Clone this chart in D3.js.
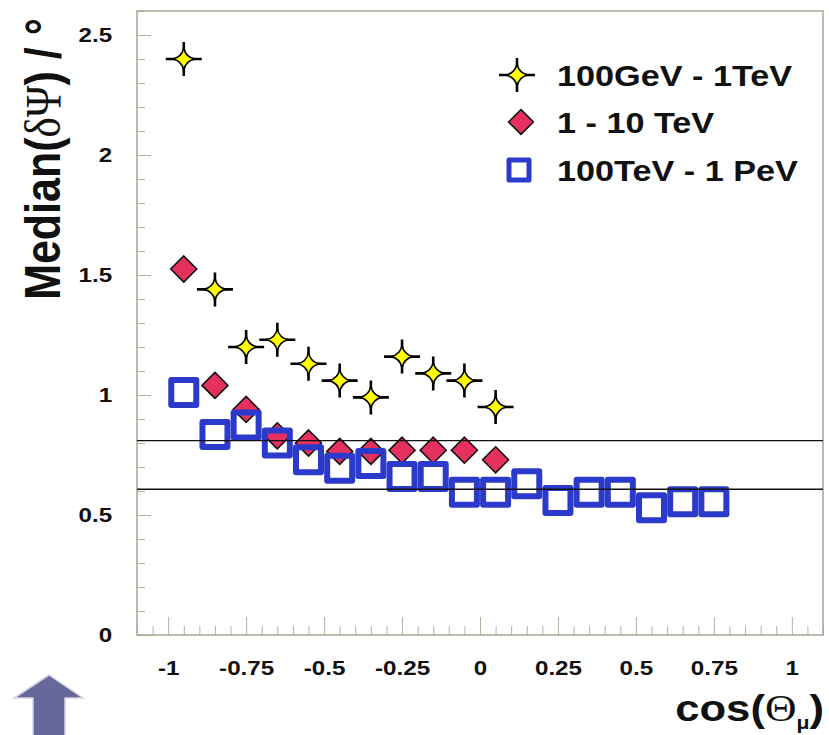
<!DOCTYPE html>
<html>
<head>
<meta charset="utf-8">
<script src="https://cdn.jsdelivr.net/npm/d3@7"></script>
<style>
  body { margin: 0; background: #fff; }
  svg { display: block; }
</style>
</head>
<body>
<svg id="chart" width="829" height="735"></svg>
<script>
// cos(theta_mu) bin centres
const binCentres = [-0.95, -0.85, -0.75, -0.65, -0.55, -0.45, -0.35, -0.25, -0.15,
                    -0.05, 0.05, 0.15, 0.25, 0.35, 0.45, 0.55, 0.65, 0.75];

// Median angular error (degrees) per energy band
const band100GeV = [2.40, 1.44, 1.20, 1.23, 1.13, 1.06, 0.99, 1.16, 1.09, 1.06, 0.95];
const band1TeV   = [1.525, 1.04, 0.94, 0.83, 0.80, 0.765, 0.765, 0.77, 0.77, 0.77, 0.73];
const band100TeV = [1.01, 0.835, 0.875, 0.80, 0.73, 0.695, 0.715, 0.66, 0.66, 0.595,
                    0.595, 0.63, 0.56, 0.595, 0.595, 0.53, 0.555, 0.555];

const seriesNames = ["100GeV - 1TeV", "1 - 10 TeV", "100TeV - 1 PeV"];

// horizontal reference levels
const refLevels = [0.81, 0.607];

// axis ticks
const xMajorTicks = [-1, -0.75, -0.5, -0.25, 0, 0.25, 0.5, 0.75, 1];
const xTickLabels = ["-1", "-0.75", "-0.5", "-0.25", "0", "0.25", "0.5", "0.75", "1"];
const yMajorTicks = [0, 0.5, 1, 1.5, 2, 2.5];
const yTickLabels = ["0", "0.5", "1", "1.5", "2", "2.5"];

const SANS = "'Liberation Sans', Arial, Helvetica, sans-serif";
const SERIF = "'Liberation Serif', 'Times New Roman', serif";
const STRETCH = 1.18;

const svg = d3.select("#chart");

const x = d3.scaleLinear().domain([-1.1, 1.1]).range([137, 823]);
const y = d3.scaleLinear().domain([0, 2.6]).range([635, 11]);

const frameColor = "#a7a792";
const tickColor = "#b3b3a0";

// ---- axes ----
const xMinor = d3.range(-22, 23).map(i => i * 0.05).filter(v => Math.abs(Math.round(v * 4) - v * 4) > 1e-6);
const yMinor = d3.range(0, 27).map(i => i * 0.1).filter(v => Math.abs(Math.round(v * 2) - v * 2) > 1e-6);

const gx = svg.append("g").attr("transform", `translate(0,${y(0)})`);
gx.append("g").call(d3.axisBottom(x).tickValues(xMinor).tickSize(-9).tickFormat(""));
gx.append("g").call(d3.axisBottom(x).tickValues(xMajorTicks).tickSize(-18).tickPadding(25)
  .tickFormat((d, i) => xTickLabels[i]));

const gy = svg.append("g").attr("transform", `translate(${x.range()[0]},0)`);
gy.append("g").call(d3.axisLeft(y).tickValues(yMinor).tickSize(-8).tickFormat(""));
gy.append("g").call(d3.axisLeft(y).tickValues(yMajorTicks).tickSize(-14).tickPadding(21)
  .tickFormat((d, i) => yTickLabels[i]));

svg.selectAll(".domain").remove();
svg.selectAll(".tick line").attr("stroke", tickColor).attr("stroke-width", 1);
svg.selectAll(".tick text")
  .attr("font-family", SANS).attr("font-weight", "bold").attr("font-size", 20.5)
  .attr("fill", "#111")
  .attr("transform", `scale(${STRETCH},1)`);

// frame
svg.append("rect")
  .attr("x", x.range()[0]).attr("y", y.range()[1])
  .attr("width", x.range()[1] - x.range()[0]).attr("height", y.range()[0] - y.range()[1])
  .attr("fill", "none").attr("stroke", frameColor).attr("stroke-width", 1.5);

// ---- marker shapes ----
function starPath(rx, ry, c) {
  return `M${rx},0 Q${c},${c} 0,${ry} Q${-c},${c} ${-rx},0 Q${-c},${-c} 0,${-ry} Q${c},${-c} ${rx},0 Z`;
}
const STAR = starPath(11, 11, 2);
const DIAMOND = "M0,-13 L13,0 L0,13 L-13,0 Z";

// four-point star with its black bars
function drawStar(g, cx, cy) {
  const s = g.append("g").attr("transform", `translate(${cx},${cy})`);
  s.append("path").attr("d", "M-18,0 H18 M0,-17 V17")
    .attr("stroke", "#000").attr("stroke-width", 2.6).attr("fill", "none");
  s.append("path").attr("d", STAR)
    .attr("fill", "#ffff00").attr("stroke", "#000").attr("stroke-width", 1.6)
    .attr("stroke-linejoin", "round");
}
function drawDiamond(g, cx, cy, sc) {
  g.append("path").attr("d", DIAMOND).attr("transform", `translate(${cx},${cy}) scale(${sc})`)
    .attr("fill", "#e6305f").attr("stroke", "#111").attr("stroke-width", 1.6 / sc);
}
function drawSquare(g, cx, cy, side, w) {
  g.append("rect").attr("x", cx - side / 2).attr("y", cy - side / 2)
    .attr("width", side).attr("height", side)
    .attr("fill", "none").attr("stroke", "#2c3acb").attr("stroke-width", w)
    .attr("stroke-linejoin", "round");
}

// ---- data ----
const marks = svg.append("g");
band100GeV.forEach((v, i) => drawStar(marks, x(binCentres[i]), y(v)));
band1TeV.forEach((v, i) => drawDiamond(marks, x(binCentres[i]), y(v), 1));
band100TeV.forEach((v, i) => drawSquare(marks, x(binCentres[i]), y(v), 25, 6));

// reference lines
svg.append("g").selectAll("line").data(refLevels).join("line")
  .attr("x1", x.range()[0]).attr("x2", x.range()[1])
  .attr("y1", d => y(d)).attr("y2", d => y(d))
  .attr("stroke", "#111").attr("stroke-width", 1.4);

// ---- legend ----
const legend = svg.append("g");
const legendRows = [75, 122, 170];
drawStar(legend, 517, legendRows[0]);
drawDiamond(legend, 521, legendRows[1], 0.95);
drawSquare(legend, 519, legendRows[2], 20, 5);
seriesNames.forEach((name, i) => {
  legend.append("text")
    .attr("transform", `translate(557,${legendRows[i] + 10.5}) scale(${STRETCH},1)`)
    .attr("font-family", SANS).attr("font-weight", "bold").attr("font-size", 29)
    .attr("fill", "#111").text(name);
});

// ---- axis titles ----
const yTitle = svg.append("text")
  .attr("transform", `translate(60,159) scale(${STRETCH},1) rotate(-90)`)
  .attr("text-anchor", "middle")
  .attr("font-family", SANS).attr("font-weight", "bold").attr("font-size", 43)
  .attr("fill", "#111");
yTitle.append("tspan").text("Median(");
yTitle.append("tspan").attr("font-family", SERIF).attr("font-weight", "normal").text("δΨ");
yTitle.append("tspan").text(") / °");

const xTitle = svg.append("text")
  .attr("transform", `translate(824,721) scale(${STRETCH},1)`)
  .attr("text-anchor", "end")
  .attr("font-family", SANS).attr("font-weight", "bold").attr("font-size", 37)
  .attr("fill", "#111");
xTitle.append("tspan").text("cos(");
xTitle.append("tspan").attr("font-family", SERIF).attr("font-weight", "normal").text("Θ");
xTitle.append("tspan").attr("font-size", 18).attr("dy", 8).text("μ");
xTitle.append("tspan").attr("dy", -8).text(")");

// ---- navigation arrow ----
svg.append("path")
  .attr("d", "M49,675 L83,698 L65,698 L65,740 L33,740 L33,698 L14,698 Z")
  .attr("fill", "#66689b").attr("stroke", "#d4d4e2").attr("stroke-width", 1.5)
  .attr("stroke-linejoin", "miter");
</script>
</body>
</html>
